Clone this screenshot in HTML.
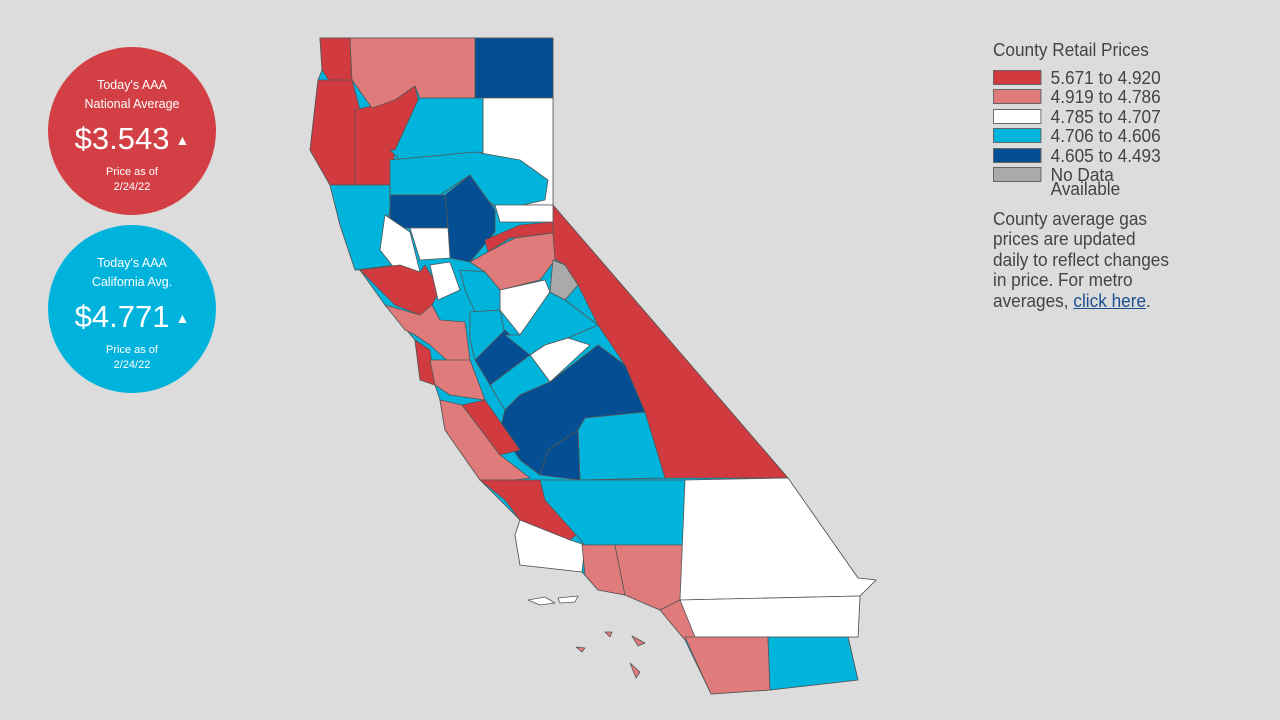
<!DOCTYPE html>
<html><head><meta charset="utf-8"><style>
body{margin:0;width:1280px;height:720px;background:#dcdcdc;font-family:"Liberation Sans",sans-serif;overflow:hidden;position:relative}
.c{position:absolute;width:168px;height:168px;border-radius:50%;color:#fff;text-align:center}
.c .t{font-size:12.5px;line-height:19px;margin-top:29px}
.c .p{font-size:31px;margin-top:8px;line-height:34px}
.c .p span{font-size:14px;vertical-align:4px;margin-left:6px}
.c .d{font-size:11px;line-height:15px;margin-top:8px}
.lg{position:absolute;left:993px;top:40px;color:#444;font-size:18.5px;line-height:19.5px;transform:scaleX(0.93);transform-origin:0 0;white-space:nowrap}
.r{display:flex;align-items:flex-start;height:19.5px}
.sw{width:52px;height:15px;border:1px solid #666;margin-right:10px;margin-top:2px;box-sizing:border-box}
</style></head><body>
<div class="c" style="left:48px;top:47px;background:#d23f45"><div class="t">Today's AAA<br>National Average</div><div class="p">$3.543<span>&#9650;</span></div><div class="d">Price as of<br>2/24/22</div></div>
<div class="c" style="left:48px;top:225px;background:#00b3dc"><div class="t">Today's AAA<br>California Avg.</div><div class="p">$4.771<span>&#9650;</span></div><div class="d">Price as of<br>2/24/22</div></div>
<div class="lg">
<div style="margin-bottom:8px">County Retail Prices</div>
<div class="r"><div class="sw" style="background:#d13b40"></div>5.671 to 4.920</div>
<div class="r"><div class="sw" style="background:#e07b7b"></div>4.919 to 4.786</div>
<div class="r"><div class="sw" style="background:#fff"></div>4.785 to 4.707</div>
<div class="r"><div class="sw" style="background:#00b4dc"></div>4.706 to 4.606</div>
<div class="r"><div class="sw" style="background:#044f93"></div>4.605 to 4.493</div>
<div class="r"><div class="sw" style="background:#aaa"></div>No Data</div>
<div style="padding-left:62px;margin-top:-4px;line-height:16px">Available</div>
<div style="margin-top:12px;line-height:20.5px">County average gas<br>prices are updated<br>daily to reflect changes<br>in price. For metro<br>averages, <span style="color:#1a4f8f;text-decoration:underline">click here</span>.</div>
</div>
<svg width="1280" height="720" style="position:absolute;left:0;top:0" stroke="#555" stroke-width="0.8" stroke-linejoin="round">
<polygon fill="#00b4dc" points="320,38 553,38 553,205 788,478 858,578 876,580 860,596 858,637 848,637 858,680 770,690 711,694 685,640 660,610 625,595 598,590 582,572 520,565 515,535 520,520 480,480 445,430 440,400 435,385 420,380 415,340 385,305 360,270 355,270 340,225 330,185 310,150 318,80 322,70"/>
<polygon fill="#d13b40" points="320,38 350,38 352,80 330,82 322,70"/>
<polygon fill="#d13b40" points="318,80 352,80 360,110 355,185 330,185 310,150"/>
<polygon fill="#d13b40" points="355,110 395,100 415,86 418,100 395,150 390,185 355,185"/>
<polygon fill="#e07b7b" points="350,38 475,38 475,98 420,98 415,86 395,100 372,108 352,80"/>
<polygon fill="#044f93" points="475,38 553,38 553,98 475,98"/>
<polygon fill="#fff" points="483,98 553,98 553,205 515,205 520,185 500,160 483,155"/>
<polygon fill="#00b4dc" points="420,98 483,98 483,152 470,155 400,160 390,150 395,150 418,100"/>
<polygon fill="#00b4dc" points="390,160 475,152 520,160 548,180 545,200 500,210 480,195 470,175 440,195 390,195"/>
<polygon fill="#00b4dc" points="330,185 390,185 390,210 385,230 380,250 395,265 355,270 340,225"/>
<polygon fill="#d13b40" points="553,205 788,478 665,478 645,412 625,365 598,325 578,285 565,265 553,258"/>
<polygon fill="#044f93" points="390,195 445,195 448,228 390,228"/>
<polygon fill="#044f93" points="445,195 470,175 495,210 495,232 470,262 450,258 448,228"/>
<polygon fill="#fff" points="385,215 410,232 420,272 400,275 380,250"/>
<polygon fill="#fff" points="410,228 448,228 450,258 420,260"/>
<polygon fill="#fff" points="495,205 553,205 553,222 500,222"/>
<polygon fill="#d13b40" points="485,240 520,225 553,222 553,233 510,238 488,252"/>
<polygon fill="#e07b7b" points="470,262 488,252 515,238 553,233 555,260 540,280 500,290 485,272"/>
<polygon fill="#aaa" points="553,260 565,265 578,285 565,300 550,292"/>
<polygon fill="#fff" points="500,290 545,280 550,292 520,335 500,310"/>
<polygon fill="#d13b40" points="360,270 400,265 420,272 425,265 440,290 432,305 420,315 395,305"/>
<polygon fill="#fff" points="430,265 450,262 460,290 438,300"/>
<polygon fill="#00b4dc" points="460,270 485,272 500,290 500,310 475,312 465,290"/>
<polygon fill="#00b4dc" points="470,312 500,310 505,335 475,360 470,340"/>
<polygon fill="#044f93" points="475,360 505,330 530,355 490,385"/>
<polygon fill="#00b4dc" points="520,335 550,292 565,300 598,325 568,338 545,345 530,355 505,335"/>
<polygon fill="#fff" points="530,355 545,345 568,338 590,345 550,382"/>
<polygon fill="#00b4dc" points="490,385 530,355 550,382 520,395 505,410"/>
<polygon fill="#044f93" points="505,410 520,395 550,382 598,345 625,365 645,412 585,418 578,430 548,450 540,475 520,460 500,430"/>
<polygon fill="#e07b7b" points="385,305 420,315 432,305 440,320 465,322 470,360 460,372 430,345 415,335 405,330"/>
<polygon fill="#d13b40" points="415,340 430,350 435,385 420,380"/>
<polygon fill="#e07b7b" points="430,360 470,360 485,400 450,395 435,385"/>
<polygon fill="#d13b40" points="462,405 485,400 520,450 500,455"/>
<polygon fill="#e07b7b" points="440,400 462,405 500,455 530,478 515,480 480,480 445,430"/>
<polygon fill="#00b4dc" points="585,418 645,412 665,478 580,480 578,430"/>
<polygon fill="#044f93" points="540,475 548,450 578,430 580,480"/>
<polygon fill="#d13b40" points="480,480 540,480 582,530 570,540 520,520 505,500"/>
<polygon fill="#00b4dc" points="540,480 685,480 685,545 585,545 545,500"/>
<polygon fill="#fff" points="515,535 520,520 570,540 585,545 582,572 520,565"/>
<polygon fill="#e07b7b" points="582,545 615,545 625,595 598,590 585,575"/>
<polygon fill="#e07b7b" points="615,545 685,545 680,600 660,610 625,595"/>
<polygon fill="#fff" points="685,480 788,478 858,578 876,580 860,596 680,600"/>
<polygon fill="#fff" points="680,600 860,596 858,637 690,637"/>
<polygon fill="#e07b7b" points="660,610 680,600 695,637 685,640"/>
<polygon fill="#e07b7b" points="685,637 768,637 770,690 711,694"/>
<polygon fill="#00b4dc" points="768,637 848,637 858,680 770,690"/>
<g fill="#fff"><polygon points="528,600 545,597 555,603 540,605"/><polygon points="558,598 578,596 575,602 560,603"/></g>
<g fill="#e07b7b"><polygon points="605,632 612,632 610,637"/><polygon points="632,636 645,643 638,646"/><polygon points="576,647 585,648 582,652"/><polygon points="630,663 640,672 636,678"/></g>
</svg>
</body></html>
